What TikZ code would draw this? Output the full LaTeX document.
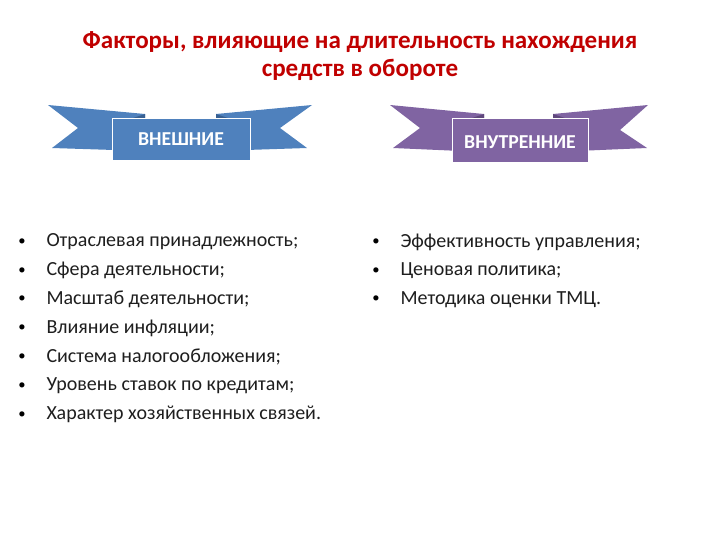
\documentclass[tikz,border=0pt]{standalone}
\usepackage{fontspec}
\setmainfont{Carlito}

\tikzset{every picture/.style={line width=0.75pt}}
\tikzset{
  titletext/.style={font=\fontsize{18.8}{21}\selectfont\bfseries, text={rgb, 255:red, 192; green, 0; blue, 0}, align=center},
  bannertext/.style={font=\fontsize{14.8}{16}\selectfont\bfseries, text=white},
  itemtext/.style={font=\fontsize{15}{17}\selectfont, text={rgb, 255:red, 30; green, 30; blue, 30}, anchor=west, inner sep=0pt},
  dotmark/.style={font=\fontsize{11}{12}\selectfont, anchor=center, inner sep=0pt}
}

\begin{document}
\begin{tikzpicture}[x=0.75pt,y=0.75pt,yscale=-1,xscale=1]
	\path (0,0) rectangle (720,540); %set diagram to 720 x 540

	%Text: title
	\node[titletext] (title) at (360,56) {Факторы, влияющие на длительность нахождения\\средств в обороте};

	%Ribbon left tail [blue]
	\draw  [draw opacity=0][fill={rgb, 255:red, 79; green, 129; blue, 189 }  ,fill opacity=1 ] (48,105) -- (145,114) -- (145,151) -- (52,148) -- (78,128) -- cycle ;
	%Ribbon right tail [blue]
	\draw  [draw opacity=0][fill={rgb, 255:red, 79; green, 129; blue, 189 }  ,fill opacity=1 ] (312,105) -- (216,114) -- (216,151) -- (307,148) -- (280,128) -- cycle ;
	%Ribbon folds [blue]
	\draw  [draw opacity=0][fill={rgb, 255:red, 56; green, 96; blue, 146 }  ,fill opacity=1 ] (133,118) -- (145,114) -- (145,118) -- cycle ;
	\draw  [draw opacity=0][fill={rgb, 255:red, 56; green, 96; blue, 146 }  ,fill opacity=1 ] (228,118) -- (216,114) -- (216,118) -- cycle ;
	%Ribbon band [blue]
	\draw  [draw={rgb, 255:red, 255; green, 255; blue, 255 }][fill={rgb, 255:red, 79; green, 129; blue, 189 }  ,fill opacity=1 ] (112,118) -- (250,118) -- (250,160) -- (112,160) -- cycle ;
	\node[bannertext] (outer) at (181,139) {ВНЕШНИЕ};

	%Ribbon left tail [purple]
	\draw  [draw opacity=0][fill={rgb, 255:red, 128; green, 100; blue, 162 }  ,fill opacity=1 ] (390,105) -- (484,114) -- (484,152) -- (393,148) -- (420,128) -- cycle ;
	%Ribbon right tail [purple]
	\draw  [draw opacity=0][fill={rgb, 255:red, 128; green, 100; blue, 162 }  ,fill opacity=1 ] (648,105) -- (553,114) -- (553,152) -- (647,148) -- (620,130) -- cycle ;
	%Ribbon folds [purple]
	\draw  [draw opacity=0][fill={rgb, 255:red, 95; green, 72; blue, 124 }  ,fill opacity=1 ] (472,118) -- (484,114) -- (484,118) -- cycle ;
	\draw  [draw opacity=0][fill={rgb, 255:red, 95; green, 72; blue, 124 }  ,fill opacity=1 ] (565,118) -- (553,114) -- (553,118) -- cycle ;
	%Ribbon band [purple]
	\draw  [draw={rgb, 255:red, 255; green, 255; blue, 255 }][fill={rgb, 255:red, 128; green, 100; blue, 162 }  ,fill opacity=1 ] (452,118) -- (588,118) -- (588,162) -- (452,162) -- cycle ;
	\node[bannertext] (inner) at (520,142) {ВНУТРЕННИЕ};

	%Lists
	\foreach \txt [count=\i] in {Отраслевая принадлежность;, Сфера деятельности;, Масштаб деятельности;, Влияние инфляции;, Система налогообложения;, Уровень ставок по кредитам;, Характер хозяйственных связей.}{
		\node[dotmark] (ldot\i) at (22,{242+28.8*(\i-1)}) {•};
		\node[itemtext] (lit\i) at (46,{242+28.8*(\i-1)}) {\txt};
	}
	\foreach \txt [count=\i] in {Эффективность управления;, Ценовая политика;, Методика оценки ТМЦ.}{
		\node[dotmark] (rdot\i) at (376,{242+28.8*(\i-1)}) {•};
		\node[itemtext] (rit\i) at (400,{242+28.8*(\i-1)}) {\txt};
	}

\end{tikzpicture}
\end{document}
